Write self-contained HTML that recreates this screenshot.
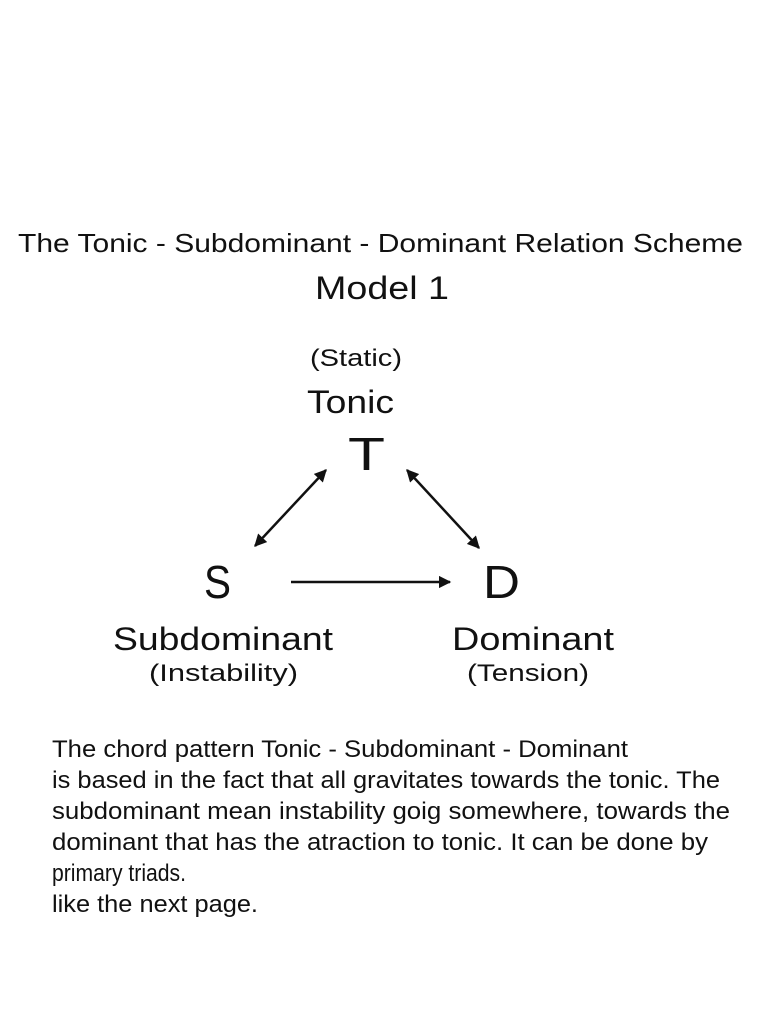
<!DOCTYPE html>
<html><head><meta charset="utf-8"><style>
html,body{margin:0;padding:0;background:#fff;}
svg{display:block;}
text{font-family:"Liberation Sans",sans-serif;fill:#111;}
</style></head><body>
<svg width="768" height="1024" viewBox="0 0 768 1024">
<defs>
<marker id="ah" viewBox="0 0 10 10" refX="9" refY="5" markerWidth="5" markerHeight="5" orient="auto-start-reverse" markerUnits="strokeWidth">
<path d="M0,0 L10,5 L0,10 z" fill="#111"/></marker>
</defs>
<text x="18" y="252" font-size="26" textLength="725" lengthAdjust="spacingAndGlyphs">The Tonic - Subdominant - Dominant Relation Scheme</text>
<text x="315" y="299" font-size="32" textLength="134" lengthAdjust="spacingAndGlyphs">Model 1</text>
<text x="310" y="366" font-size="24" textLength="92" lengthAdjust="spacingAndGlyphs">(Static)</text>
<text x="307" y="413" font-size="32" textLength="87" lengthAdjust="spacingAndGlyphs">Tonic</text>
<text x="348" y="470" font-size="46" textLength="37" lengthAdjust="spacingAndGlyphs">T</text>
<text x="204" y="598" font-size="46" textLength="27" lengthAdjust="spacingAndGlyphs">S</text>
<text x="483" y="598" font-size="46" textLength="37" lengthAdjust="spacingAndGlyphs">D</text>
<text x="113" y="650" font-size="32" textLength="220" lengthAdjust="spacingAndGlyphs">Subdominant</text>
<text x="149" y="681" font-size="24" textLength="149" lengthAdjust="spacingAndGlyphs">(Instability)</text>
<text x="452" y="650" font-size="32" textLength="162" lengthAdjust="spacingAndGlyphs">Dominant</text>
<text x="467" y="681" font-size="24" textLength="122" lengthAdjust="spacingAndGlyphs">(Tension)</text>
<g stroke="#111" stroke-width="2.5" fill="none">
<line x1="255" y1="546" x2="326" y2="470" marker-start="url(#ah)" marker-end="url(#ah)"/>
<line x1="407" y1="470" x2="479" y2="548" marker-start="url(#ah)" marker-end="url(#ah)"/>
<line x1="291" y1="582" x2="450" y2="582" marker-end="url(#ah)"/>
</g>
<g font-size="24">
<text x="52" y="757" textLength="576" lengthAdjust="spacingAndGlyphs">The chord pattern Tonic - Subdominant - Dominant</text>
<text x="52" y="788" textLength="668" lengthAdjust="spacingAndGlyphs">is based in the fact that all gravitates towards the tonic.  The</text>
<text x="52" y="819" textLength="678" lengthAdjust="spacingAndGlyphs">subdominant mean instability goig somewhere, towards the</text>
<text x="52" y="850" textLength="656" lengthAdjust="spacingAndGlyphs">dominant that has the atraction to tonic. It can be done by</text>
<text x="52" y="881" textLength="134" lengthAdjust="spacingAndGlyphs">primary triads.</text>
<text x="52" y="912" textLength="206" lengthAdjust="spacingAndGlyphs">like the next page.</text>
</g>
</svg>
</body></html>
